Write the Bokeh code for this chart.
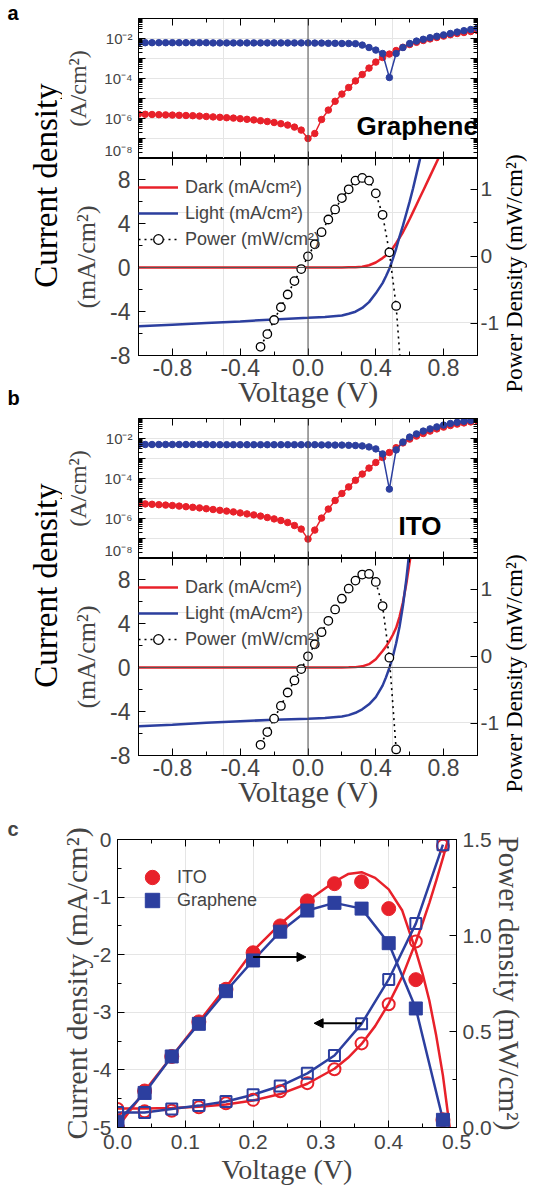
from math import pi
from bokeh.plotting import figure
from bokeh.layouts import row, column
from bokeh.models import (Range1d, LinearAxis, LogAxis, Span, Label, Legend, LegendItem,
                          Arrow, NormalHead, FixedTicker, CustomJSTickFormatter, Title)
from bokeh.embed import file_html
from bokeh.resources import INLINE

RED = "#e8212a"
BLUE = "#2c3f9f"
SANS = "Liberation Sans"
SERIF = "Liberation Serif"

# ---------------- data: panels a / b, log view (log10 of |J| in A/cm^2) ----------------
v_sweep = [-1.00, -0.96, -0.92, -0.88, -0.84, -0.80, -0.76, -0.72, -0.68, -0.64, -0.60,
           -0.56, -0.52, -0.48, -0.44, -0.40, -0.36, -0.32, -0.28, -0.24, -0.20, -0.16,
           -0.12, -0.08, -0.04, 0.00, 0.04, 0.08, 0.12, 0.16, 0.20, 0.24, 0.28, 0.32,
           0.36, 0.40, 0.44, 0.48, 0.52, 0.56, 0.60, 0.64, 0.68, 0.72, 0.76, 0.80, 0.84,
           0.88, 0.92, 0.96, 1.00]

a_dark_exp = [-5.78, -5.79, -5.80, -5.81, -5.82, -5.83, -5.84, -5.85, -5.86, -5.88, -5.90,
              -5.92, -5.94, -5.96, -5.98, -6.01, -6.04, -6.07, -6.11, -6.15, -6.20, -6.26,
              -6.33, -6.43, -6.58, -7.00, -6.75, -6.05, -5.58, -5.14, -4.78, -4.45, -4.12,
              -3.80, -3.48, -3.18, -2.95, -2.78, -2.60, -2.44, -2.30, -2.19, -2.10, -2.02,
              -1.95, -1.88, -1.81, -1.75, -1.70, -1.65, -1.60]
a_light_exp = [-2.21, -2.21, -2.21, -2.21, -2.21, -2.21, -2.21, -2.21, -2.21, -2.21, -2.21,
               -2.22, -2.22, -2.22, -2.22, -2.22, -2.22, -2.22, -2.22, -2.22, -2.22, -2.22,
               -2.22, -2.22, -2.22, -2.22, -2.23, -2.23, -2.24, -2.24, -2.25, -2.25, -2.26,
               -2.33, -2.45, -2.58, -2.75, -3.95, -2.75, -2.45, -2.25, -2.13, -2.04, -1.96,
               -1.89, -1.82, -1.75, -1.68, -1.61, -1.55, -1.48]
b_dark_exp = [-5.25, -5.27, -5.29, -5.31, -5.33, -5.35, -5.38, -5.41, -5.44, -5.47, -5.51,
              -5.55, -5.59, -5.63, -5.67, -5.72, -5.77, -5.82, -5.88, -5.95, -6.02, -6.10,
              -6.20, -6.35, -6.53, -7.03, -6.58, -5.98, -5.53, -5.10, -4.75, -4.42, -4.09,
              -3.78, -3.48, -3.20, -2.95, -2.70, -2.46, -2.22, -2.03, -1.88, -1.75, -1.63,
              -1.52, -1.43, -1.35, -1.28, -1.22, -1.17, -1.12]
b_light_exp = [-2.30, -2.30, -2.30, -2.30, -2.30, -2.30, -2.30, -2.30, -2.30, -2.30, -2.30,
               -2.31, -2.31, -2.31, -2.31, -2.31, -2.31, -2.31, -2.31, -2.31, -2.31, -2.31,
               -2.31, -2.31, -2.31, -2.31, -2.31, -2.32, -2.32, -2.33, -2.33, -2.34, -2.35,
               -2.37, -2.42, -2.52, -2.77, -4.53, -2.57, -2.18, -1.93, -1.77, -1.63, -1.52,
               -1.42, -1.33, -1.25, -1.19, -1.14, -1.10, -1.06]

# ---------------- data: panels a / b, linear view (mA/cm^2) ----------------
v_curve = [-1.0, -0.8, -0.6, -0.4, -0.2, 0.0, 0.1, 0.2, 0.24, 0.28, 0.32, 0.36, 0.40, 0.44,
           0.46, 0.48, 0.50, 0.52, 0.54, 0.56, 0.58, 0.60, 0.62, 0.64, 0.66, 0.68, 0.72,
           0.76, 0.80]
a_dark_j = [0.0, 0.0, 0.0, 0.0, 0.0, 0.0, 0.0, 0.0, 0.01, 0.02, 0.07, 0.2, 0.45, 0.85, 1.08,
            1.35, 1.75, 2.2, 2.7, 3.2, 3.8, 4.4, 5.05, 5.7, 6.35, 7.0, 8.3, 9.6, 10.9]
a_light_j = [-5.35, -5.2, -5.05, -4.9, -4.72, -4.58, -4.5, -4.37, -4.2, -4.02, -3.68, -3.15,
             -2.35, -1.42, -0.8, -0.12, 0.75, 1.7, 2.8, 3.8, 4.9, 6.0, 7.2, 8.5, 9.8, 11.2,
             13.8, 16.5, 19.0]
b_dark_j = [0.0, 0.0, 0.0, 0.0, 0.0, 0.0, 0.0, 0.0, 0.01, 0.03, 0.1, 0.3, 0.75, 1.5, 1.9,
            2.4, 2.95, 3.6, 4.6, 5.9, 7.6, 9.6, 11.6, 13.6, 15.6, 17.6, 21.0, 25.0, 29.0]
b_light_j = [-5.35, -5.2, -5.02, -4.88, -4.76, -4.67, -4.6, -4.45, -4.33, -4.12, -3.8, -3.35,
             -2.7, -1.65, -0.9, -0.05, 0.95, 2.2, 3.7, 5.6, 8.0, 10.8, 13.5, 16.0, 18.5,
             21.0, 25.0, 29.0, 33.0]

a_power_v = [-0.28, -0.24, -0.20, -0.16, -0.12, -0.08, -0.04, 0.00, 0.04, 0.08, 0.12, 0.16,
             0.20, 0.24, 0.28, 0.32, 0.36, 0.40, 0.44, 0.48, 0.52, 0.56]
a_power = [-1.35, -1.16, -0.95, -0.76, -0.57, -0.37, -0.19, 0.0, 0.18, 0.36, 0.55, 0.70,
           0.87, 1.00, 1.13, 1.17, 1.13, 0.94, 0.62, 0.06, -0.74, -2.10]
b_power_v = [-0.28, -0.24, -0.20, -0.16, -0.12, -0.08, -0.04, 0.00, 0.04, 0.08, 0.12, 0.16,
             0.20, 0.24, 0.28, 0.32, 0.36, 0.40, 0.44, 0.48, 0.52]
b_power = [-1.32, -1.13, -0.93, -0.74, -0.54, -0.36, -0.19, 0.0, 0.18, 0.36, 0.53, 0.70,
           0.86, 1.01, 1.13, 1.22, 1.23, 1.11, 0.75, -0.02, -1.39]

# ---------------- data: panel c ----------------
c_v = [0.00, 0.04, 0.08, 0.12, 0.16, 0.20, 0.24, 0.28, 0.32, 0.36, 0.40, 0.44, 0.48]
ito_power = [0.0, 0.19, 0.37, 0.55, 0.72, 0.91, 1.05, 1.18, 1.27, 1.28, 1.14, 0.77, 0.04]
gr_power = [0.03, 0.18, 0.37, 0.54, 0.71, 0.87, 1.02, 1.13, 1.17, 1.14, 0.96, 0.62, 0.04]
ito_j = [-4.68, -4.72, -4.71, -4.65, -4.58, -4.52, -4.37, -4.23, -3.99, -3.54, -2.86, -1.77, -0.11]
gr_j = [-4.74, -4.74, -4.68, -4.62, -4.55, -4.43, -4.28, -4.06, -3.75, -3.20, -2.43, -1.46, -0.09]
ito_fit_v = [0.0, 0.04, 0.08, 0.12, 0.16, 0.20, 0.24, 0.28, 0.32, 0.34, 0.36, 0.38, 0.40, 0.42,
             0.44, 0.45, 0.46, 0.47, 0.48, 0.49]
ito_fit_p = [0.0, 0.19, 0.37, 0.55, 0.73, 0.92, 1.06, 1.18, 1.28, 1.32, 1.33, 1.30, 1.24, 1.13,
             0.92, 0.80, 0.66, 0.48, 0.27, 0.0]
ito_fit_j = [-4.67, -4.67, -4.66, -4.64, -4.60, -4.53, -4.42, -4.24, -3.98, -3.79, -3.55, -3.24,
             -2.85, -2.38, -1.78, -1.45, -1.10, -0.72, -0.32, 0.10]
arrow_v_start = [0.20, 0.36]
arrow_v_end = [0.278, 0.29]
arrow_j = [-2.04, -3.19]

W = 527
LW, RW = 62, 25
MW = W - LW - RW
FRAME_W = 353
LIN_FRAME_H = 197
LIN_BOTTOM = 60


def ticks_style(ax, size=23, labels=True, standoff=4):
    ax.major_tick_in = 7
    ax.major_tick_out = 0
    ax.minor_tick_in = 4
    ax.minor_tick_out = 0
    ax.axis_line_color = "black"
    ax.major_tick_line_color = "black"
    ax.minor_tick_line_color = "black"
    ax.major_label_text_font = SANS
    ax.major_label_standoff = standoff
    ax.axis_label_text_font = SERIF
    ax.axis_label_text_font_style = "normal"
    if labels:
        ax.major_label_text_font_size = f"{size}px"
    else:
        ax.major_label_text_font_size = "0px"
        ax.major_label_standoff = 0
        ax.formatter = CustomJSTickFormatter(code="return '';")


def bare(w, h, **kw):
    p = figure(width=w, height=h, x_axis_location=None, y_axis_location=None,
               toolbar_location=None, output_backend="svg", min_border=0, **kw)
    p.outline_line_color = None
    return p


def add_text(p, s, x, y, size, font=SERIF, style="normal", angle=0.0, align="center",
             baseline="middle", color="black"):
    p.add_layout(Label(x=x, y=y, x_units="screen", y_units="screen", text=s, text_font=font,
                       text_font_size=f"{size}px", text_font_style=style, angle=angle,
                       text_align=align, text_baseline=baseline, text_color=color))


log_fmt = CustomJSTickFormatter(code="""
const e = Math.round(Math.log10(tick));
if (e % 2 !== 0) { return ""; }
const sup = {"-": "\\u207b", "0": "\\u2070", "1": "\\u00b9", "2": "\\u00b2", "3": "\\u00b3",
             "4": "\\u2074", "5": "\\u2075", "6": "\\u2076", "7": "\\u2077", "8": "\\u2078", "9": "\\u2079"};
return "10" + String(e).split("").map(c => sup[c]).join("");
""")
x_fmt = CustomJSTickFormatter(code="return tick.toFixed(1);")
int_fmt = CustomJSTickFormatter(code="return tick.toFixed(0);")

log_major = [1e-8, 1e-7, 1e-6, 1e-5, 1e-4, 1e-3, 1e-2, 1e-1]
log_minor = [m * 10.0 ** e for e in range(-8, -1) for m in range(2, 10)]
x_major = [-0.8, -0.4, 0.0, 0.4, 0.8]
x_minor = [-1.0, -0.6, -0.2, 0.2, 0.6, 1.0]


def iv_block(letters, name, name_x, dark_exp, light_exp, dark_j, light_j, pv, pw,
             top_border, block_h):
    lin_h = LIN_FRAME_H + LIN_BOTTOM
    log_h = block_h - lin_h
    right_b = MW - 65 - FRAME_W
    # ---- log view
    lg = figure(width=MW, height=log_h, x_range=Range1d(-1, 1), y_range=Range1d(1e-8, 1e-1),
                y_axis_type="log", x_axis_location=None, y_axis_location=None,
                toolbar_location=None, output_backend="svg", min_border=0)
    lg.min_border_left = 65
    lg.min_border_right = right_b
    lg.min_border_top = top_border
    lg.min_border_bottom = 0
    lg.outline_line_color = "black"
    la = LogAxis(ticker=FixedTicker(ticks=log_major, minor_ticks=log_minor), formatter=log_fmt,
                 axis_label="(A/cm²)", axis_label_text_font_size="24px",
                 axis_label_standoff=10)
    ticks_style(la, size=15, standoff=6)
    lg.add_layout(la, "left")
    ra = LogAxis(ticker=FixedTicker(ticks=log_major, minor_ticks=log_minor))
    ticks_style(ra, labels=False)
    lg.add_layout(ra, "right")
    for loc in ("above", "below"):
        xa = LinearAxis(ticker=FixedTicker(ticks=x_major, minor_ticks=x_minor))
        ticks_style(xa, labels=False)
        lg.add_layout(xa, loc)
    lg.add_layout(Span(location=0, dimension="height", line_color="#555555", line_width=1))
    d_abs = [10 ** e for e in dark_exp]
    l_abs = [10 ** e for e in light_exp]
    lg.line(v_sweep, d_abs, line_color=RED, line_width=1.5)
    lg.scatter(v_sweep, d_abs, size=6.5, fill_color=RED, line_color=RED)
    lg.line(v_sweep, l_abs, line_color=BLUE, line_width=1.5)
    lg.scatter(v_sweep, l_abs, size=6.5, fill_color=BLUE, line_color=BLUE)
    add_text(lg, name, name_x, 33, 26, font=SANS, style="bold", align="left")

    # ---- linear view
    ln = figure(width=MW, height=lin_h, x_range=Range1d(-1, 1), y_range=Range1d(-8, 9.9),
                x_axis_location=None, y_axis_location=None, toolbar_location=None,
                output_backend="svg", min_border=0)
    ln.min_border_left = 65
    ln.min_border_right = right_b
    ln.min_border_top = 0
    ln.min_border_bottom = LIN_BOTTOM
    ln.outline_line_color = "black"
    ln.extra_y_ranges = {"pow": Range1d(-1.48, 1.46)}
    ya = LinearAxis(ticker=FixedTicker(ticks=[-8, -4, 0, 4, 8], minor_ticks=[-6, -2, 2, 6]),
                    formatter=int_fmt, axis_label="(mA/cm²)", axis_label_text_font_size="26px",
                    axis_label_standoff=6)
    ticks_style(ya, size=23, standoff=8)
    ln.add_layout(ya, "left")
    pa = LinearAxis(y_range_name="pow", formatter=int_fmt,
                    ticker=FixedTicker(ticks=[-1, 0, 1], minor_ticks=[-1.5, -0.5, 0.5, 1.5]))
    ticks_style(pa, size=21, standoff=3)
    ln.add_layout(pa, "right")
    xb = LinearAxis(ticker=FixedTicker(ticks=x_major, minor_ticks=x_minor), formatter=x_fmt,
                    axis_label="Voltage (V)", axis_label_text_font_size="30px",
                    axis_label_standoff=-4)
    ticks_style(xb, size=23, standoff=3)
    ln.add_layout(xb, "below")
    xt = LinearAxis(ticker=FixedTicker(ticks=x_major, minor_ticks=x_minor))
    ticks_style(xt, labels=False)
    ln.add_layout(xt, "above")
    ln.add_layout(Span(location=0, dimension="height", line_color="#555555", line_width=1))
    ln.add_layout(Span(location=0, dimension="width", line_color="#555555", line_width=1))
    r_d = ln.line(v_curve, dark_j, line_color=RED, line_width=2.5)
    r_l = ln.line(v_curve, light_j, line_color=BLUE, line_width=2.5)
    r_pl = ln.line(pv, pw, y_range_name="pow", line_color="black", line_width=1.6,
                   line_dash="2 4")
    r_pc = ln.scatter(pv, pw, y_range_name="pow", size=8.5, fill_color="white",
                      line_color="black", line_width=1.3)
    leg = Legend(items=[LegendItem(label="Dark (mA/cm²)", renderers=[r_d]),
                        LegendItem(label="Light (mA/cm²)", renderers=[r_l]),
                        LegendItem(label="Power (mW/cm²)", renderers=[r_pl, r_pc])],
                 location=(0, 104), glyph_width=40, glyph_height=24, label_height=24,
                 spacing=2, padding=0, margin=0, label_standoff=7,
                 label_text_font=SANS, label_text_font_size="18px",
                 border_line_color=None, background_fill_alpha=0)
    ln.add_layout(leg)

    # ---- side labels
    lf = bare(LW, block_h)
    for letter, ly in letters:
        add_text(lf, letter, 7, ly, 20, font=SANS, style="bold", align="left")
    add_text(lf, "Current density", 45, block_h - (top_border + 167), 33, angle=pi / 2)
    rf = bare(RW, block_h)
    add_text(rf, "Power Density (mW/cm²)", 12, block_h - (top_border + 255), 23, angle=pi / 2)
    return row(lf, column(lg, ln), rf)


BLOCK_A_H = 18 + 140 + LIN_FRAME_H + LIN_BOTTOM          # 415
block_a = iv_block([("a", BLOCK_A_H - 12), ("b", BLOCK_A_H - 397)], "Graphene", 218,
                   a_dark_exp, a_light_exp, a_dark_j, a_light_j, a_power_v, a_power,
                   18, BLOCK_A_H)
TOP_B = 418 - BLOCK_A_H
BLOCK_B_H = TOP_B + 140 + LIN_FRAME_H + LIN_BOTTOM
block_b = iv_block([], "ITO", 260, b_dark_exp, b_light_exp, b_dark_j, b_light_j,
                   b_power_v, b_power, TOP_B, BLOCK_B_H)

# ---------------- panel c ----------------
C_TOP = BLOCK_A_H + BLOCK_B_H
C_H = 1187 - C_TOP
pc = figure(width=W, height=C_H, x_range=Range1d(0, 0.5), y_range=Range1d(-5, 0),
            x_axis_location=None, y_axis_location=None, toolbar_location=None,
            output_backend="svg", min_border=0)
pc.title = Title(text="c", align="left", offset=-110, standoff=0, text_font=SANS,
                 text_font_size="20px", text_font_style="bold", text_line_height=1.0)
pc.min_border_left = 117
pc.min_border_right = 68
pc.min_border_top = 837 - C_TOP
pc.min_border_bottom = 58
pc.outline_line_color = "black"
pc.extra_y_ranges = {"pow": Range1d(0, 1.5)}
cy = LinearAxis(ticker=FixedTicker(ticks=[-5, -4, -3, -2, -1, 0],
                                   minor_ticks=[-4.5, -3.5, -2.5, -1.5, -0.5]),
                formatter=int_fmt, axis_label="Current density (mA/cm²)",
                axis_label_text_font_size="30px", axis_label_standoff=-3)
ticks_style(cy, size=21, standoff=6)
pc.add_layout(cy, "left")
cr = LinearAxis(y_range_name="pow", formatter=x_fmt,
                ticker=FixedTicker(ticks=[0, 0.5, 1.0, 1.5], minor_ticks=[0.25, 0.75, 1.25]),
                axis_label="Power density (mW/cm²)", axis_label_text_font_size="29px",
                axis_label_standoff=-2)
ticks_style(cr, size=21, standoff=6)
pc.add_layout(cr, "right")
cx = LinearAxis(ticker=FixedTicker(ticks=[0, 0.1, 0.2, 0.3, 0.4, 0.5],
                                   minor_ticks=[0.05, 0.15, 0.25, 0.35, 0.45]),
                formatter=x_fmt, axis_label="Voltage (V)", axis_label_text_font_size="28px",
                axis_label_standoff=2)
ticks_style(cx, size=21, standoff=7)
pc.add_layout(cx, "below")
ct = LinearAxis(ticker=FixedTicker(ticks=[0, 0.1, 0.2, 0.3, 0.4, 0.5],
                                   minor_ticks=[0.05, 0.15, 0.25, 0.35, 0.45]))
ticks_style(ct, labels=False)
pc.add_layout(ct, "above")

# fits / connecting lines
pc.line(ito_fit_v, ito_fit_p, y_range_name="pow", line_color=RED, line_width=2.5)
pc.line(ito_fit_v, ito_fit_j, line_color=RED, line_width=2.5)
pc.line(c_v, gr_power, y_range_name="pow", line_color=BLUE, line_width=2.5)
pc.line(c_v, gr_j, line_color=BLUE, line_width=2.5)
# open symbols: current density
pc.scatter(c_v, ito_j, marker="circle", size=12, fill_color=None, line_color=RED, line_width=2)
pc.scatter(c_v, gr_j, marker="square", size=11, fill_color=None, line_color=BLUE, line_width=2)
# filled symbols: power density
r_ito = pc.scatter(c_v, ito_power, y_range_name="pow", marker="circle", size=14,
                   fill_color=RED, line_color=RED)
r_gr = pc.scatter(c_v, gr_power, y_range_name="pow", marker="square", size=13,
                  fill_color=BLUE, line_color=BLUE)
for xs, xe, yj in zip(arrow_v_start, arrow_v_end, arrow_j):
    pc.add_layout(Arrow(end=NormalHead(size=9, fill_color="black", line_color="black"),
                        x_start=xs, y_start=yj, x_end=xe, y_end=yj,
                        line_color="black", line_width=1.8))
for lab, rend, ly in (("ITO", r_ito, 232), ("Graphene", r_gr, 209)):
    pc.add_layout(Legend(items=[LegendItem(label=lab, renderers=[rend])],
                         location=(17, ly), glyph_width=36, glyph_height=36,
                         label_height=23, spacing=0, padding=0, margin=0, label_standoff=7,
                         label_text_font=SANS, label_text_font_size="18px",
                         border_line_color=None, background_fill_alpha=0))

layout = column(block_a, block_b, pc)
open("out.html", "w").write(file_html(layout, INLINE))
